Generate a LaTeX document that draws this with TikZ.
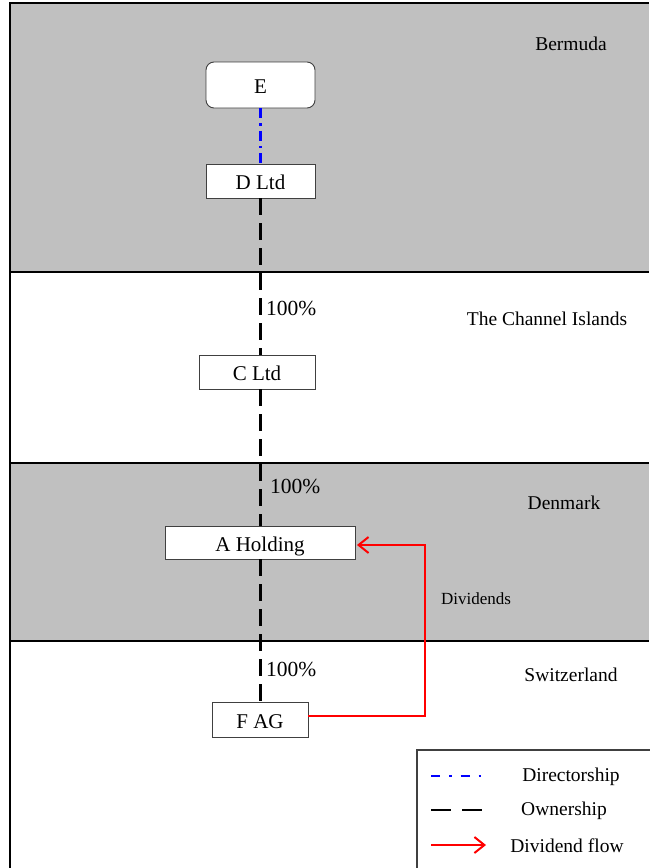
\documentclass[tikz,border=0pt]{standalone}
\usepackage{fontspec}
\setmainfont{Liberation Serif}
\usetikzlibrary{arrows.meta}
\definecolor{band}{HTML}{C0C0C0}
\definecolor{boxline}{HTML}{404040}
\tikzset{
  entity/.style={draw=boxline, line width=0.9pt, fill=white, inner sep=0pt,
    minimum height=34pt, text height=18pt, text depth=1pt, font=\fontsize{21}{24}\selectfont},
  region/.style={font=\fontsize{19.5}{22}\selectfont, inner sep=0pt},
  pct/.style={font=\fontsize{21.5}{24}\selectfont, inner sep=0pt, anchor=west},
  divider/.style={line width=1.2pt, black},
  ownership/.style={line width=2.6pt, black, dash pattern=on 17pt off 8pt},
  directorship/.style={line width=2.6pt, blue, dash pattern=on 10pt off 5pt on 2.5pt off 5pt},
  dividend/.style={line width=2pt, red, -{Straight Barb[length=10pt,width=16pt,line width=2pt]}},
  legendtext/.style={font=\fontsize{19.5}{22}\selectfont, inner sep=0pt},
}
\begin{document}
\begin{tikzpicture}[x=1pt,y=-1pt]
\useasboundingbox (0,0) rectangle (649,868);
% bands
\fill[band] (10,3) rectangle (649,272);
\fill[band] (10,463) rectangle (649,641);
\draw[divider] (10,880) -- (10,3) -- (649,3);
\draw[divider] (10,272) -- (649,272);
\draw[divider] (10,463) -- (649,463);
\draw[divider] (10,641) -- (649,641);
% region labels
\node[region] (bermuda) at (571,44) {Bermuda};
\node[region] (channel) at (547,319) {The Channel Islands};
\node[region] (denmark) at (564,503) {Denmark};
\node[region] (swiss) at (571,675) {Switzerland};
% entities
\node[entity, rounded corners=8pt, minimum width=109pt, minimum height=46pt] (E) at (260.5,85) {E};
\node[entity, minimum width=109pt] (D) at (260.5,181) {D Ltd};
\node[entity, minimum width=116pt] (C) at (257,372) {C Ltd};
\node[entity, minimum width=190pt, minimum height=33pt] (A) at (260,542.5) {A Holding};
\node[entity, minimum width=96pt, minimum height=35pt] (F) at (260,719.5) {F AG};
% connectors
\draw[directorship] (E.south) -- (E.south |- D.north);
\draw[ownership] (D.south) -- (D.south |- C.north);
\draw[ownership] (D.south |- C.south) -- (D.south |- A.north);
\draw[ownership] (D.south |- A.south) -- (D.south |- F.north);
\node[pct] (p1) at (266,308) {100\%};
\node[pct] (p2) at (270,486) {100\%};
\node[pct] (p3) at (266,669) {100\%};
% dividends
\coordinate (d1) at (425,716);
\coordinate (d2) at (425,545);
\draw[dividend] (F.east |- d1) -- (d1) -- (d2) -- ([xshift=1.5pt]A.east |- d2);
\node[font=\fontsize{17}{20}\selectfont, inner sep=0pt] (divlbl) at (476,599) {Dividends};
% legend
\draw[line width=1.2pt, boxline] (417,880) -- (417,750) -- (660,750);
\coordinate (l1a) at (431,776); \coordinate (l1b) at (483,776);
\coordinate (l2a) at (431,810); \coordinate (l2b) at (482,810);
\coordinate (l3a) at (431,845); \coordinate (l3b) at (486,845);
\draw[line width=2.6pt, blue, dash pattern=on 9pt off 9pt on 2.5pt off 9pt] (l1a) -- (l1b);
\draw[line width=2.6pt, black, dash pattern=on 20pt off 11pt] (l2a) -- (l2b);
\draw[dividend] (l3a) -- (l3b);
\node[legendtext] (lt1) at (571,776.5) {Directorship};
\node[legendtext] (lt2) at (564,810.5) {Ownership};
\node[legendtext] (lt3) at (567,845.5) {Dividend flow};
\end{tikzpicture}
\end{document}
